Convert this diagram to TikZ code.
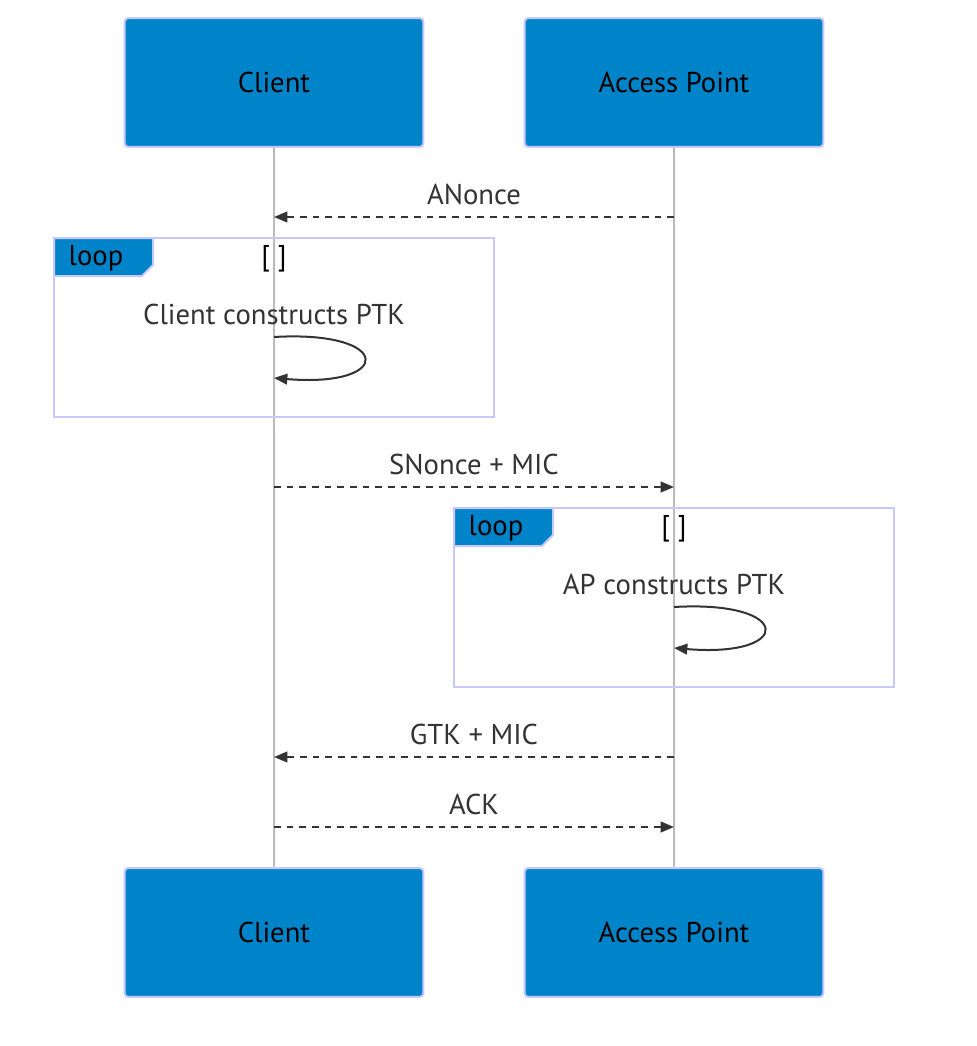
\documentclass[tikz,border=0pt]{standalone}
\usepackage{fontspec}
\setmainfont{PT Sans}
\usetikzlibrary{arrows.meta,calc,positioning}

\definecolor{actorblue}{HTML}{0084C9}
\definecolor{actorline}{HTML}{C8C8FF}
\definecolor{msgcolor}{HTML}{333333}
\definecolor{lifecolor}{HTML}{BBBBBB}

\begin{document}
\begin{tikzpicture}[x=0.75pt,y=-0.75pt,
    actor/.style={draw=actorline,line width=1.5pt,fill=actorblue,rounded corners=2.5pt,
        minimum width=224pt,minimum height=96.5pt,inner sep=0pt,font=\fontsize{21.5}{25}\selectfont},
    lifeline/.style={lifecolor,line width=1.1pt},
    msg/.style={msgcolor,line width=1.5pt,dash pattern=on 5pt off 4.5pt,-{Triangle[length=10pt,width=8pt]}},
    selfmsg/.style={msgcolor,line width=1.5pt,-{Triangle[length=10pt,width=8pt]}},
    msglabel/.style={text=msgcolor,inner sep=0pt,font=\fontsize{21.5}{25}\selectfont},
    loopbox/.style={draw=actorline,line width=2.2pt},
    looptab/.style={fill=actorblue,draw=actorline,line width=1.5pt}]

    % Define variables
    \def\xc{274} % x of the Client lifeline
    \def\xa{674} % x of the Access Point lifeline

    \useasboundingbox (0,0) rectangle (976,1046);

    % Draw actors
    \node[actor] (clientTop) at (\xc,82.5) {Client};
    \node[actor] (apTop) at (\xa,82.5) {Access Point};
    \node[actor] (clientBot) at (\xc,932.5) {Client};
    \node[actor] (apBot) at (\xa,932.5) {Access Point};

    % Draw lifelines
    \draw[lifeline] (clientTop) -- (clientBot);
    \draw[lifeline] (apTop) -- (apBot);

    % Draw the loop frames
    \draw[loopbox] (54,238) rectangle (494,417);
    \draw[looptab] (54,238) -- (153,238) -- (153,265) -- (142,276) -- (54,276) -- cycle;
    \node[msglabel,text=black] (loopA) at (96,258) {loop};
    \node[msglabel,text=black] (condA) at (\xc,259) {[ ]};
    \draw[loopbox] (454,508) rectangle (894,687);
    \draw[looptab] (454,508) -- (553,508) -- (553,535) -- (542,546) -- (454,546) -- cycle;
    \node[msglabel,text=black] (loopB) at (496,528) {loop};
    \node[msglabel,text=black] (condB) at (\xa,529) {[ ]};

    % Message end points on the lifelines
    \coordinate (c1) at (\xc,217); \coordinate (a1) at (\xa,217);
    \coordinate (c2) at (\xc,487); \coordinate (a2) at (\xa,487);
    \coordinate (c3) at (\xc,757); \coordinate (a3) at (\xa,757);
    \coordinate (c4) at (\xc,827); \coordinate (a4) at (\xa,827);

    % Draw the messages
    \draw[msg] (a1) -- node[msglabel,above=9.75pt,anchor=base] {ANonce} (c1);
    \draw[msg] (c2) -- node[msglabel,above=9.75pt,anchor=base] {SNonce + MIC} (a2);
    \draw[msg] (a3) -- node[msglabel,above=9.75pt,anchor=base] {GTK + MIC} (c3);
    \draw[msg] (c4) -- node[msglabel,above=9.75pt,anchor=base] {ACK} (a4);

    % Draw the self messages
    \node[msglabel] (ptkC) at (\xc,314) {Client constructs PTK};
    \coordinate (cs) at (\xc,337); \coordinate (ce) at (\xc,378);
    \draw[selfmsg] (cs) .. controls ($(cs)+(120,-7)$) and ($(ce)+(120,10)$) .. (ce);
    \node[msglabel] (ptkA) at (\xa,584) {AP constructs PTK};
    \coordinate (as) at (\xa,607); \coordinate (ae) at (\xa,648);
    \draw[selfmsg] (as) .. controls ($(as)+(120,-7)$) and ($(ae)+(120,10)$) .. (ae);
\end{tikzpicture}
\end{document}
